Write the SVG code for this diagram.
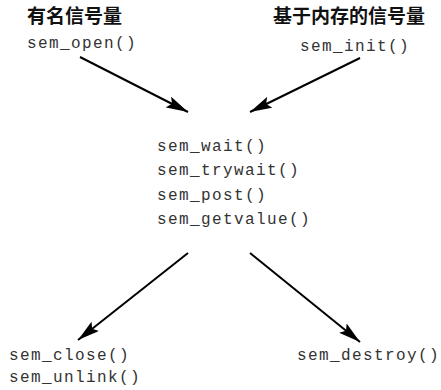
<svg xmlns="http://www.w3.org/2000/svg" width="441" height="390" viewBox="0 0 441 390">
<defs>
<marker id="ah" viewBox="0 0 22 12" refX="22" refY="6" markerWidth="22" markerHeight="12" markerUnits="userSpaceOnUse" orient="auto">
<path d="M0,0 L22,6 L0,12 L4,6 Z" fill="#000"/>
</marker>
<style>
.h{font-family:"Noto Sans CJK SC","Noto Sans CJK JP",sans-serif;font-weight:bold;font-size:19px;fill:#111}
.m{font-family:"Liberation Mono","DejaVu Sans Mono",monospace;font-size:16px;letter-spacing:1.4px;fill:#333}
.c{stroke:#000;stroke-width:2;fill:none;marker-end:url(#ah)}
</style>
</defs>
<rect width="441" height="390" fill="#fff"/>
<g id="named">
<text class="h" x="27" y="23">有名信号量</text>
<text class="m" x="27" y="48">sem_open()</text>
</g>
<g id="memory">
<text class="h" x="273" y="23">基于内存的信号量</text>
<text class="m" x="300" y="51">sem_init()</text>
</g>
<g id="ops">
<text class="m" x="157" y="151">sem_wait()</text>
<text class="m" x="157" y="175">sem_trywait()</text>
<text class="m" x="157" y="200">sem_post()</text>
<text class="m" x="157" y="224">sem_getvalue()</text>
</g>
<g id="close">
<text class="m" x="9" y="360">sem_close()</text>
<text class="m" x="9" y="382">sem_unlink()</text>
</g>
<g id="destroy">
<text class="m" x="297" y="360">sem_destroy()</text>
</g>
<g id="connectors">
<line class="c" x1="80" y1="57" x2="188" y2="112"/>
<line class="c" x1="360" y1="58" x2="250" y2="112"/>
<line class="c" x1="188" y1="253" x2="78" y2="340"/>
<line class="c" x1="250" y1="253" x2="360" y2="342"/>
</g>
</svg>
